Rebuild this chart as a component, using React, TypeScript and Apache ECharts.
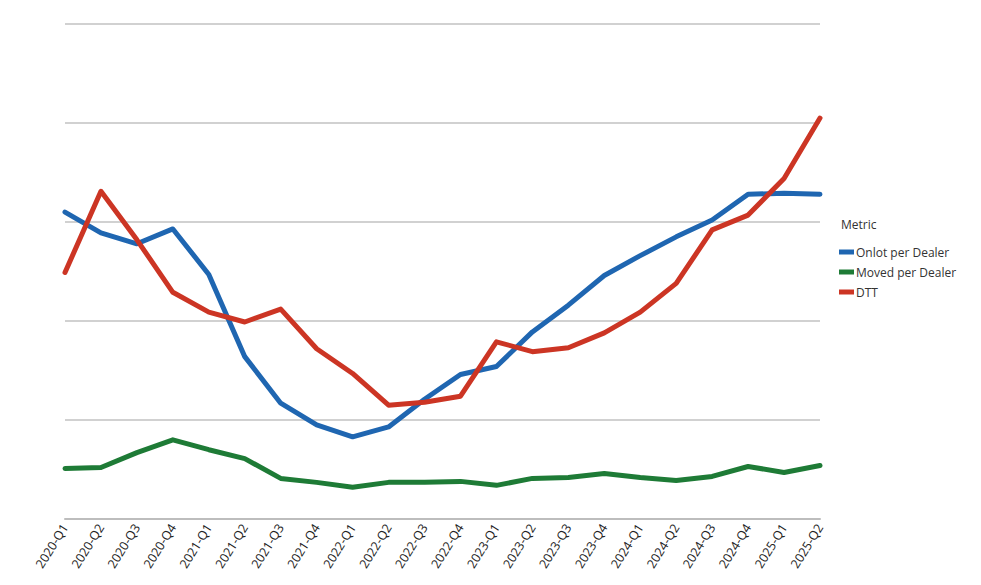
import React, { useEffect, useRef } from "react";
import * as echarts from "echarts";

const categories = [
  "2020-Q1", "2020-Q2", "2020-Q3", "2020-Q4",
  "2021-Q1", "2021-Q2", "2021-Q3", "2021-Q4",
  "2022-Q1", "2022-Q2", "2022-Q3", "2022-Q4",
  "2023-Q1", "2023-Q2", "2023-Q3", "2023-Q4",
  "2024-Q1", "2024-Q2", "2024-Q3", "2024-Q4",
  "2025-Q1", "2025-Q2",
];

const onlotPerDealer = [
  3.10, 2.89, 2.78, 2.93, 2.47, 1.64, 1.17, 0.95, 0.83, 0.93, 1.21,
  1.46, 1.54, 1.89, 2.16, 2.46, 2.66, 2.85, 3.02, 3.28, 3.29, 3.28,
];

const movedPerDealer = [
  0.51, 0.52, 0.67, 0.80, 0.70, 0.61, 0.41, 0.37, 0.32, 0.37, 0.37,
  0.38, 0.34, 0.41, 0.42, 0.46, 0.42, 0.39, 0.43, 0.53, 0.47, 0.54,
];

const dtt = [
  2.49, 3.31, 2.82, 2.29, 2.09, 1.99, 2.12, 1.72, 1.47, 1.15, 1.18,
  1.24, 1.79, 1.69, 1.73, 1.88, 2.09, 2.38, 2.92, 3.07, 3.44, 4.05,
];

const seriesNames = ["Onlot per Dealer", "Moved per Dealer", "DTT"];
const seriesColors = ["#1f66b1", "#1e7b36", "#cc3524"];

export default function App() {
  const ref = useRef<HTMLDivElement>(null);

  useEffect(() => {
    if (!ref.current) return;
    const chart = echarts.init(ref.current, undefined, { renderer: "svg" });
    const font = "'Open Sans', 'Noto Sans', sans-serif";
    const data = [onlotPerDealer, movedPerDealer, dtt];
    chart.setOption({
      animation: false,
      backgroundColor: "#ffffff",
      textStyle: { fontFamily: font },
      title: {
        text: "Metric",
        left: 836,
        top: 213,
        textStyle: { fontSize: 12, fontWeight: "normal", color: "#333", fontFamily: font },
      },
      legend: {
        orient: "vertical",
        left: 834,
        top: 241,
        itemWidth: 15,
        itemHeight: 5,
        itemGap: 8,
        icon: "rect",
        data: seriesNames,
        textStyle: { fontSize: 12, color: "#333", fontFamily: font, padding: [0, 0, 0, -3] },
      },
      grid: { left: 65, right: 161, top: 24, bottom: 66, containLabel: false },
      xAxis: {
        type: "category",
        data: categories,
        boundaryGap: false,
        axisLine: { show: true, lineStyle: { color: "#bdbdbd", width: 2 } },
        axisTick: { show: false },
        axisLabel: {
          rotate: 58,
          interval: 0,
          fontSize: 12.5,
          color: "#222",
          margin: 6,
          fontFamily: font,
        },
      },
      yAxis: {
        type: "value",
        min: 0,
        max: 5,
        interval: 1,
        axisLine: { show: false },
        axisTick: { show: false },
        axisLabel: { show: false },
        splitLine: { lineStyle: { color: "#c2c2c2", width: 1.5 } },
      },
      series: seriesNames.map((name, i) => ({
        name,
        type: "line",
        data: data[i],
        symbol: "none",
        smooth: false,
        color: seriesColors[i],
        lineStyle: { width: 5, color: seriesColors[i], cap: "round", join: "round" },
      })),
    });
    return () => chart.dispose();
  }, []);

  return (
    <div
      ref={ref}
      style={{ position: "fixed", left: 0, top: 0, width: 981, height: 585 }}
    />
  );
}
